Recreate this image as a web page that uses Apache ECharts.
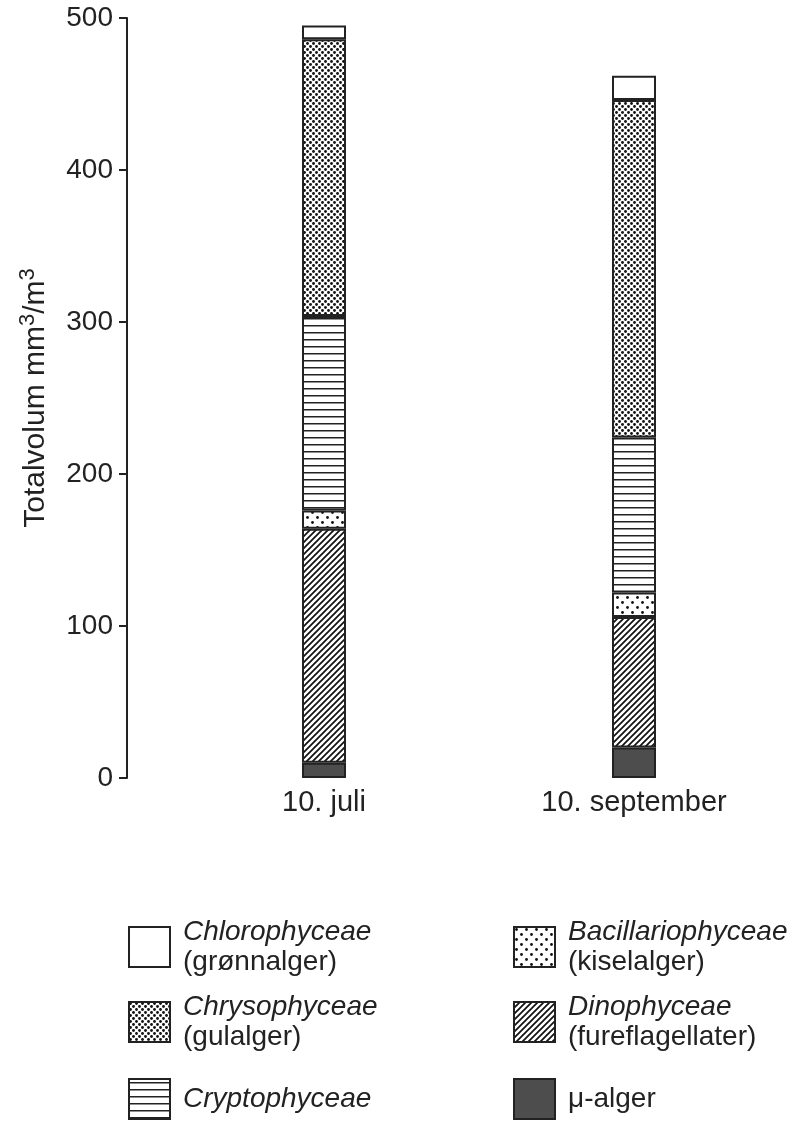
<!DOCTYPE html>
<html><head><meta charset="utf-8">
<script src="https://cdn.jsdelivr.net/npm/echarts@6/dist/echarts.min.js"></script>
<style>html,body{margin:0;padding:0;background:#fff}#c{width:791px;height:1124px}</style>
</head><body><div id="c"></div>
<script>
// ---- data (mm3/m3) ----
const categories = ['10. juli', '10. september'];
const muAlger = [10, 20];
const dinophyceae = [154, 86];
const bacillariophyceae = [12, 16];
const cryptophyceae = [128, 102];
const chrysophyceae = [182, 222];
const chlorophyceae = [9, 16];
const yMin = 0, yMax = 500, yStep = 100;
const yName = 'Totalvolum mm{sup|3}/m{sup|3}';
const subNames = {
  'Chlorophyceae': '(grønnalger)',
  'Chrysophyceae': '(gulalger)',
  'Cryptophyceae': '',
  'Bacillariophyceae': '(kiselalger)',
  'Dinophyceae': '(fureflagellater)',
  'μ-alger': ''
};

// ---- patterns ----
function pat(w, h, draw) {
  const c = document.createElement('canvas');
  c.width = w; c.height = h;
  const g = c.getContext('2d');
  g.fillStyle = '#fff'; g.fillRect(0, 0, w, h);
  draw(g);
  return { image: c, repeat: 'repeat' };
}
function dot(g, x, y, r) { g.beginPath(); g.arc(x, y, r, 0, Math.PI * 2); g.fill(); }
const fills = {
  'Chlorophyceae': '#ffffff',
  'Chrysophyceae': pat(6, 6, g => { g.fillStyle = '#111'; dot(g, 1.5, 1.5, 1.4); dot(g, 4.5, 4.5, 1.4); }),
  'Cryptophyceae': pat(4, 7, g => { g.fillStyle = '#222'; g.fillRect(0, 3, 4, 1.5); }),
  'Bacillariophyceae': pat(10, 10, g => { g.fillStyle = '#111'; dot(g, 2.5, 2.5, 1.4); dot(g, 7.5, 7.5, 1.4); }),
  'Dinophyceae': pat(6, 6, g => {
    g.strokeStyle = '#111'; g.lineWidth = 1.7;
    g.beginPath();
    g.moveTo(0, 6); g.lineTo(6, 0);
    g.moveTo(-1, 1); g.lineTo(1, -1);
    g.moveTo(5, 7); g.lineTo(7, 5);
    g.stroke();
  }),
  'μ-alger': '#4d4d4d'
};

const seriesDefs = [
  ['μ-alger', muAlger],
  ['Dinophyceae', dinophyceae],
  ['Bacillariophyceae', bacillariophyceae],
  ['Cryptophyceae', cryptophyceae],
  ['Chrysophyceae', chrysophyceae],
  ['Chlorophyceae', chlorophyceae]
];

const FONT = '"Liberation Sans", Arial, sans-serif';
const TXT = '#222';

const legendPos = [
  ['Chlorophyceae', 128, 918],
  ['Chrysophyceae', 128, 993],
  ['Cryptophyceae', 128, 1078],
  ['Bacillariophyceae', 513, 918],
  ['Dinophyceae', 513, 993],
  ['μ-alger', 513, 1078]
];

const legends = legendPos.map(([n, l, t]) => ({
  data: [n],
  left: l, top: t, padding: 0,
  orient: 'vertical',
  selectedMode: false,
  icon: 'rect',
  itemWidth: 41, itemHeight: 40,
  formatter: name => {
    const head = name === 'μ-alger' ? '{n|' + name + '}' : '{i|' + name + '}';
    return subNames[name] ? head + '\n{n|' + subNames[name] + '}' : head;
  },
  textStyle: {
    padding: [0, 0, 0, 8],
    rich: {
      i: { fontFamily: FONT, fontStyle: 'italic', fontSize: 28, lineHeight: 30, color: TXT },
      n: { fontFamily: FONT, fontSize: 28, lineHeight: 30, color: TXT }
    }
  }
}));

const chart = echarts.init(document.getElementById('c'), null, { renderer: 'canvas' });
chart.setOption({
  animation: false,
  backgroundColor: '#fff',
  grid: { left: 169, right: 2, top: 18, bottom: 346, outerBoundsMode: 'none' },
  legend: legends,
  xAxis: {
    type: 'category',
    data: categories,
    axisLine: { show: false },
    axisTick: { show: false },
    axisLabel: { fontFamily: FONT, fontSize: 29, color: TXT, margin: 10 }
  },
  yAxis: {
    type: 'value',
    min: yMin, max: yMax, interval: yStep,
    offset: 42,
    name: yName,
    nameLocation: 'middle',
    nameGap: 72,
    nameTextStyle: {
      fontFamily: FONT, fontSize: 30, color: TXT, lineHeight: 36,
      rich: { sup: { fontFamily: FONT, fontSize: 22, color: TXT, verticalAlign: 'top', lineHeight: 36, padding: [0, 0, 16, 0] } }
    },
    axisLine: { show: true, lineStyle: { color: '#222', width: 2 } },
    axisTick: { show: true, length: 8, lineStyle: { color: '#222', width: 2 } },
    axisLabel: { fontFamily: FONT, fontSize: 28, color: TXT, margin: 14 },
    splitLine: { show: false }
  },
  series: seriesDefs.map(([name, vals]) => ({
    name: name,
    type: 'bar',
    stack: 'total',
    barWidth: 44,
    data: vals,
    itemStyle: { color: fills[name], borderColor: '#222', borderWidth: 2 },
    emphasis: { disabled: true }
  }))
});
</script>
</body></html>
